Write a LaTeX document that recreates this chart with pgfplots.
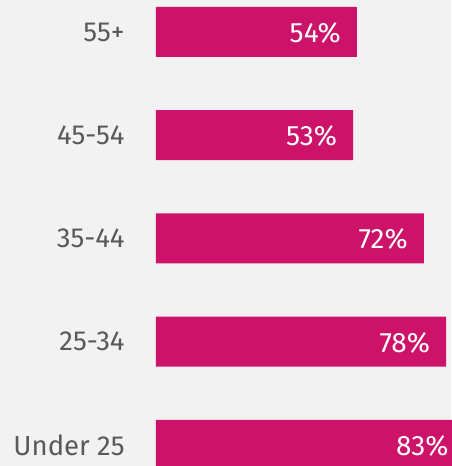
\documentclass[border=0pt]{standalone}
\usepackage{pgfplots}
\pgfplotsset{compat=1.18}
\usepackage{fontspec}
\setmainfont{Fira Sans}
\definecolor{bg}{HTML}{F2F2F2}
\definecolor{barc}{HTML}{CC1269}
\definecolor{txt}{HTML}{595959}
\begin{document}
\begin{tikzpicture}[x=1pt,y=1pt]
\path[use as bounding box, fill=bg] (0,0) rectangle (451,466);
\begin{axis}[
  at={(156pt,-30.6pt)}, anchor=south west,
  scale only axis,
  width=372pt, height=516.25pt,
  xmin=0, xmax=100,
  ymin=-0.5, ymax=4.5,
  xbar, bar width=50pt,
  axis line style={draw=none},
  tick style={draw=none},
  xtick=\empty,
  ytick={0,1,2,3,4},
  yticklabels={Under 25,25-34,35-44,45-54,55+},
  yticklabel style={font=\fontsize{27.5}{30}\selectfont, text=txt, inner sep=0pt, anchor=east, xshift=-27pt},
  clip=false,
  nodes near coords={\pgfmathprintnumber[assume math mode=true]{\pgfplotspointmeta}\%},
  nodes near coords style={font=\fontsize{28}{30}\selectfont, text=white, anchor=east, inner sep=0pt, xshift=-16pt, yshift=-1pt},
]
\addplot[fill=barc, draw=none] coordinates {(83,0) (78,1) (72,2) (53,3) (54,4)};
\end{axis}
\end{tikzpicture}
\end{document}
